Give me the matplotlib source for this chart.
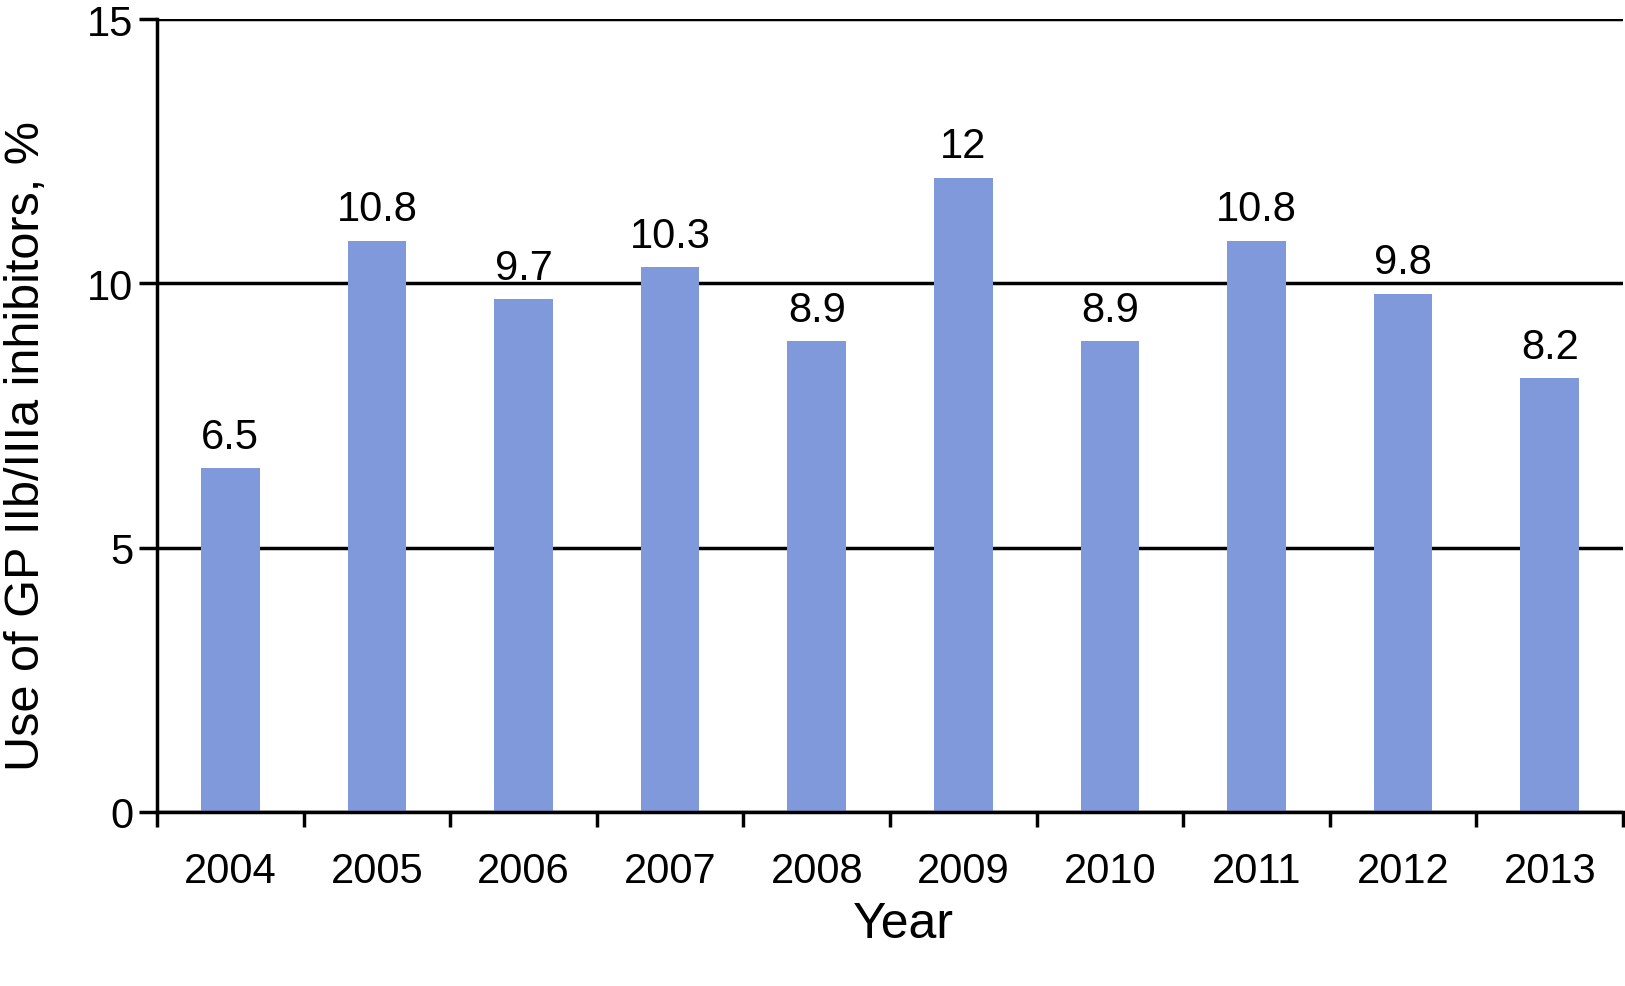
import matplotlib.pyplot as plt
import numpy as np

plt.rcParams['font.family'] = ['Liberation Sans', 'DejaVu Sans']

years = ['2004', '2005', '2006', '2007', '2008', '2009', '2010', '2011', '2012', '2013']
values = [6.5, 10.8, 9.7, 10.3, 8.9, 12, 8.9, 10.8, 9.8, 8.2]
labels = ['6.5', '10.8', '9.7', '10.3', '8.9', '12', '8.9', '10.8', '9.8', '8.2']

fig = plt.figure(figsize=(16.25, 9.87), dpi=100)
ax = fig.add_axes([157/1625, 1-813/987, (1623-157)/1625, (813-20)/987])

x = np.arange(len(years))
ax.bar(x, values, width=0.4, color='#7f99da', zorder=2)
for xi, v, lab in zip(x, values, labels):
    ax.text(xi, v + 0.22, lab, ha='center', va='bottom', fontsize=30)

ax.set_xlim(-0.5, len(years) - 0.5)
ax.set_ylim(0, 15)
ax.set_yticks([0, 5, 10, 15])
ax.yaxis.grid(True, color='black', linewidth=2.5, zorder=1)
ax.set_axisbelow(True)

ax.set_xticks(x)
ax.set_xticklabels(years, fontsize=30)
ax.set_xticks(np.arange(-0.5, len(years)), minor=True)
ax.tick_params(axis='x', which='major', length=0, pad=28)
ax.tick_params(axis='x', which='minor', length=11, width=2.5, direction='out')
ax.tick_params(axis='y', length=13, width=2.5, labelsize=30, pad=4)

for s in ['top', 'right']:
    ax.spines[s].set_visible(False)
for s in ['left', 'bottom']:
    ax.spines[s].set_linewidth(2.5)

ax.set_xlabel('Year', fontsize=36)
ax.set_ylabel('Use of GP IIb/IIIa inhibitors, %', fontsize=35)
ax.xaxis.set_label_coords(0.509, -0.112)
ax.yaxis.set_label_coords(-0.074, 0.463)

fig.savefig('out.png', dpi=100)
